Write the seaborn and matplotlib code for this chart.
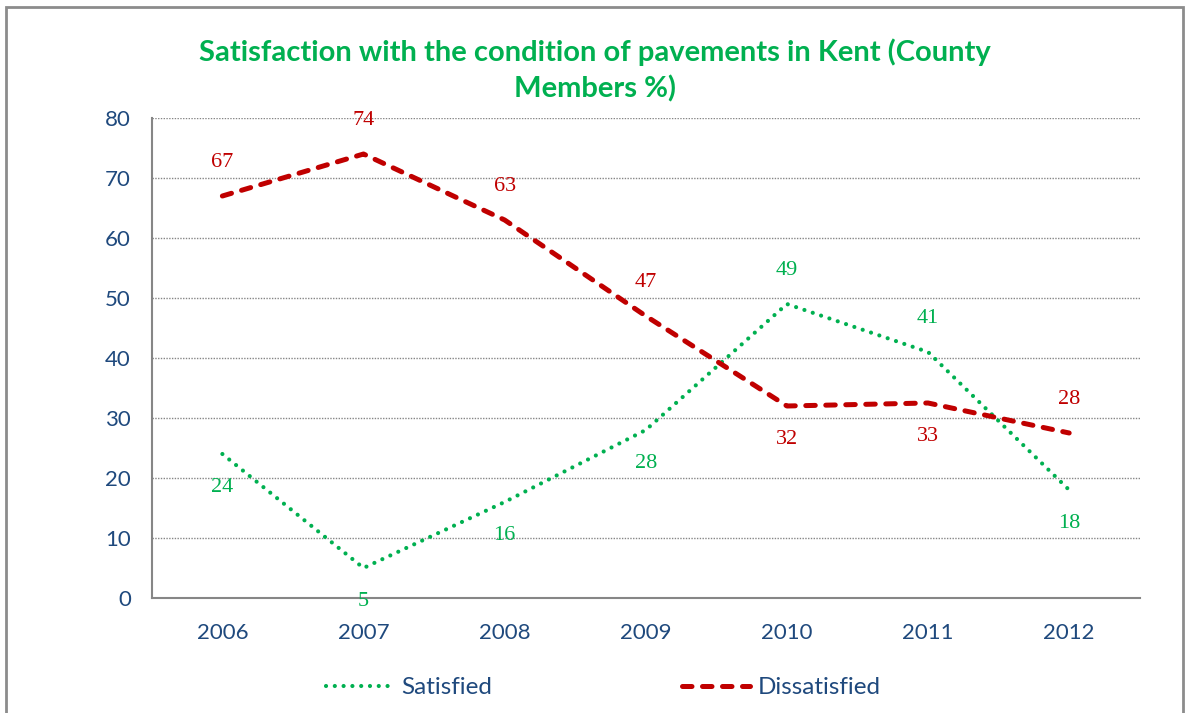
import pandas as pd
import matplotlib.pyplot as plt
import matplotlib.patches as patches
import numpy as np
import seaborn as sns

years = ['2006', '2007', '2008', '2009', '2010', '2011', '2012']
satisfied = [24, 5, 16, 28, 49, 41, 18]
dissatisfied = [67, 74, 63, 47, 32, 32.5, 27.5]
# label placement: +1 above the point, -1 below
sat_side = [-1, -1, -1, -1, 1, 1, -1]
dis_side = [1, 1, 1, 1, -1, -1, 1]

green = '#00B050'
red = '#C00000'
navy = '#1F497D'
grey = '#868686'

sns.set_style('white')
plt.rcParams['font.family'] = ['Lato', 'DejaVu Sans']

df = pd.DataFrame({'pos': np.arange(len(years)), 'Satisfied': satisfied, 'Dissatisfied': dissatisfied})

fig = plt.figure(figsize=(11.86, 7.13), dpi=100)
ax = fig.add_axes([0.128, 0.1613, 0.833, 0.6732])

sns.lineplot(data=df, x='pos', y='Satisfied', color=green, lw=3, ax=ax, label='Satisfied')
sns.lineplot(data=df, x='pos', y='Dissatisfied', color=red, lw=3.6, ax=ax, label='Dissatisfied')
l1, l2 = ax.get_lines()[:2]
l1.set_dashes((0.01, 2.1))
l1.set_dash_capstyle('round')
l2.set_dashes((1.9, 2.1))
l2.set_dash_capstyle('round')

for i in range(len(years)):
    v = satisfied[i]
    ax.annotate(f'{int(np.floor(v + 0.5))}', (i, v), xytext=(0, 24 * sat_side[i]), textcoords='offset points',
                ha='center', va='center', color=green, fontsize=16, family='Liberation Serif')
    v = dissatisfied[i]
    ax.annotate(f'{int(np.floor(v + 0.5))}', (i, v), xytext=(0, 24 * dis_side[i]), textcoords='offset points',
                ha='center', va='center', color=red, fontsize=16, family='Liberation Serif')

ax.set_xlim(-0.5, 6.5)
ax.set_ylim(0, 80)
ax.set_yticks(range(0, 81, 10))
ax.set_xticks(range(len(years)))
ax.set_xticklabels(years)
ax.set_xticks(np.arange(-0.5, 7, 1), minor=True)
ax.tick_params(axis='x', which='major', length=0, pad=18, labelsize=16, labelcolor=navy)
ax.tick_params(axis='x', which='minor', length=7, width=1, color=grey, direction='out')
ax.tick_params(axis='y', length=7, width=1, color=grey, direction='out', pad=8, labelsize=16, labelcolor=navy)
ax.set_xlabel('')
ax.set_ylabel('')
ax.grid(axis='y', color=grey, linestyle=(0, (1, 1)), lw=1)
for s in ['top', 'right']:
    ax.spines[s].set_visible(False)
for s in ['left', 'bottom']:
    ax.spines[s].set_color(grey)
    ax.spines[s].set_linewidth(1.5)

fig.text(0.502, 0.901, 'Satisfaction with the condition of pavements in Kent (County\nMembers %)',
         ha='center', va='center', color=green, fontsize=21, fontweight='bold', linespacing=1.45)

leg = ax.legend(loc='center', bbox_to_anchor=(0.457, -0.1875), ncol=2, frameon=False, fontsize=17.5,
                handlelength=2.8, handletextpad=0.3, columnspacing=7.8)
for t in leg.get_texts():
    t.set_color(navy)

fig.patches.append(patches.Rectangle((0.005, -0.01), 0.9925, 1.0, transform=fig.transFigure,
                                     fill=False, edgecolor='#8C8C8C', lw=2))

fig.savefig('out.png', dpi=100)
